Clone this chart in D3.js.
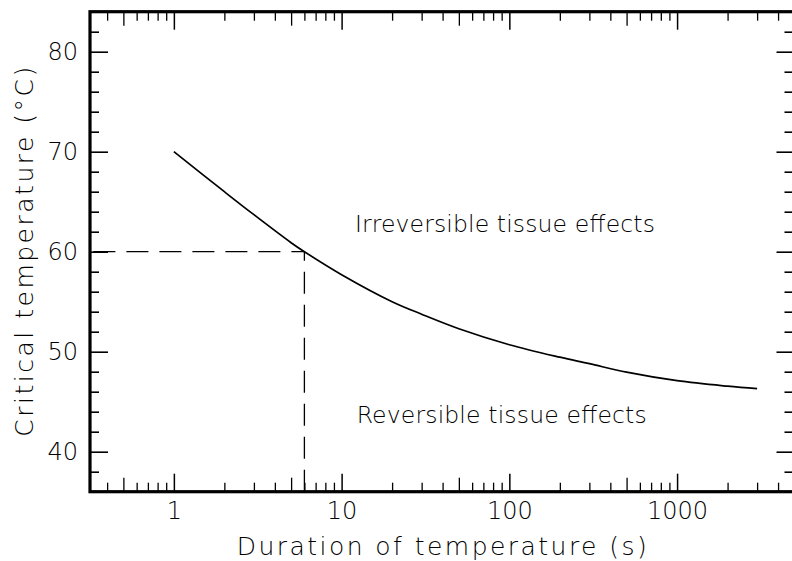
<!DOCTYPE html>
<html>
<head>
<meta charset="utf-8">
<script src="https://cdn.jsdelivr.net/npm/d3@7"></script>
<style>
  html, body { margin: 0; padding: 0; background: #fff; }
  svg { display: block; }
  text { font-family: "DejaVu Sans", "Liberation Sans", sans-serif; font-weight: 200; fill: #000; }
</style>
</head>
<body>
<svg id="chart" width="792" height="561"></svg>
<script>
// ---- data ----
const durations = [1, 2, 3, 5, 6, 10, 20, 30, 50, 100, 200, 300, 500, 1000, 2000, 3000];
const temps = [70.0, 66.0, 63.7, 60.9, 60.0, 57.7, 55.0, 53.75, 52.3, 50.7, 49.45, 48.8, 47.95, 47.1, 46.55, 46.3];
const xMajorTicks = [1, 10, 100, 1000];
const xMajorLabels = ["1", "10", "100", "1000"];
const yMajorTicks = [40, 50, 60, 70, 80];
const yMajorLabels = ["40", "50", "60", "70", "80"];
const refPoint = { duration: 6, temp: 60 };
const regionLabels = ["Irreversible tissue effects", "Reversible tissue effects"];
const regionLabelPos = [{ duration: 12.0, temp: 62.0 }, { duration: 12.3, temp: 42.9 }];
const xTitle = "Duration of temperature (s)";
const yTitle = "Critical temperature (\u00B0C)";

// ---- layout ----
const L = 90, R = 794.5, T = 11.7, B = 491.7;
const svg = d3.select("#chart");

const x = d3.scaleLog().domain([Math.pow(10, -0.5), Math.pow(10, 3.7)]).range([L, R]);
const y = d3.scaleLinear().domain([36, 84]).range([B, T]);

// minor tick values
const xMinor5 = [], xMinorOther = [];
for (let e = -1; e <= 3; e++) {
  for (let m = 2; m <= 9; m++) {
    const v = m * Math.pow(10, e);
    if (v < x.domain()[0] || v > x.domain()[1]) continue;
    if (m === 5) xMinor5.push(v); else xMinorOther.push(v);
  }
}
const yMinor = d3.range(38, 84, 2).filter(v => v % 10 !== 0);

function styleAxis(g, width) {
  g.select(".domain").remove();
  g.selectAll(".tick line").attr("stroke", "#000").attr("stroke-width", width);
}

// bottom axes
svg.append("g").attr("transform", `translate(0,${B})`)
  .call(d3.axisBottom(x).tickValues(xMajorTicks).tickFormat((d, i) => xMajorLabels[i]).tickSize(-18).tickPadding(10))
  .call(g => styleAxis(g, 1.5))
  .call(g => g.selectAll("text").attr("font-size", 24).attr("font-family", null));
svg.append("g").attr("transform", `translate(0,${B})`)
  .call(d3.axisBottom(x).tickValues(xMinor5).tickFormat("").tickSize(-14))
  .call(g => styleAxis(g, 1.3));
svg.append("g").attr("transform", `translate(0,${B})`)
  .call(d3.axisBottom(x).tickValues(xMinorOther).tickFormat("").tickSize(-9))
  .call(g => styleAxis(g, 1.3));
// top axes
svg.append("g").attr("transform", `translate(0,${T})`)
  .call(d3.axisTop(x).tickValues(xMajorTicks).tickFormat("").tickSize(-18))
  .call(g => styleAxis(g, 1.5));
svg.append("g").attr("transform", `translate(0,${T})`)
  .call(d3.axisTop(x).tickValues(xMinor5).tickFormat("").tickSize(-14))
  .call(g => styleAxis(g, 1.3));
svg.append("g").attr("transform", `translate(0,${T})`)
  .call(d3.axisTop(x).tickValues(xMinorOther).tickFormat("").tickSize(-9))
  .call(g => styleAxis(g, 1.3));
// left axes
svg.append("g").attr("transform", `translate(${L},0)`)
  .call(d3.axisLeft(y).tickValues(yMajorTicks).tickFormat((d, i) => yMajorLabels[i]).tickSize(-18).tickPadding(12))
  .call(g => styleAxis(g, 1.6))
  .call(g => g.selectAll("text").attr("font-size", 24).attr("font-family", null));
svg.append("g").attr("transform", `translate(${L},0)`)
  .call(d3.axisLeft(y).tickValues(yMinor).tickFormat("").tickSize(-9))
  .call(g => styleAxis(g, 1.6));
// right axes
svg.append("g").attr("transform", `translate(${R},0)`)
  .call(d3.axisRight(y).tickValues(yMajorTicks).tickFormat("").tickSize(-18))
  .call(g => styleAxis(g, 1.6));
svg.append("g").attr("transform", `translate(${R},0)`)
  .call(d3.axisRight(y).tickValues(yMinor).tickFormat("").tickSize(-10))
  .call(g => styleAxis(g, 1.6));

// frame
svg.append("rect").attr("x", L).attr("y", T).attr("width", R - L).attr("height", B - T)
  .attr("fill", "none").attr("stroke", "#000").attr("stroke-width", 3.2);

// dashed reference lines
svg.append("path")
  .attr("d", `M${x(refPoint.duration)},${B}V${y(refPoint.temp)}H${L}`)
  .attr("fill", "none").attr("stroke", "#000").attr("stroke-width", 1.3)
  .attr("stroke-dasharray", "22,11");

// curve
const line = d3.line().x((d, i) => x(durations[i])).y((d, i) => y(temps[i])).curve(d3.curveCatmullRom.alpha(0.5));
svg.append("path").datum(temps).attr("d", line)
  .attr("fill", "none").attr("stroke", "#000").attr("stroke-width", 1.7);

// region labels
const labelLens = [300, 290];
regionLabels.forEach((t, i) => {
  svg.append("text")
    .attr("x", x(regionLabelPos[i].duration))
    .attr("y", y(regionLabelPos[i].temp))
    .attr("font-size", 23.5)
    .attr("textLength", labelLens[i]).attr("lengthAdjust", "spacing")
    .text(t);
});

// axis titles
svg.append("text")
  .attr("x", (L + R) / 2 - 0.5).attr("y", 555)
  .attr("text-anchor", "middle").attr("font-size", 25)
  .attr("textLength", 410).attr("lengthAdjust", "spacing")
  .text(xTitle);
svg.append("text")
  .attr("transform", `translate(33,${(T + B) / 2}) rotate(-90)`)
  .attr("text-anchor", "middle").attr("font-size", 25)
  .attr("textLength", 370).attr("lengthAdjust", "spacing")
  .text(yTitle);
</script>
</body>
</html>
